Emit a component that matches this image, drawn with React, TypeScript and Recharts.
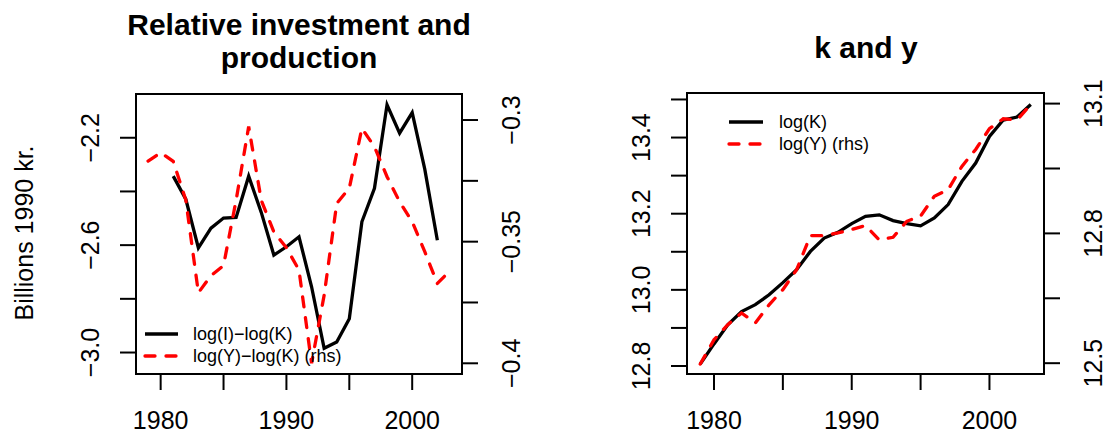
import React from "react";
import { Line, LineChart, ReferenceArea, XAxis, YAxis } from "recharts";

// years shared by both panels
const years = [
  1979, 1980, 1981, 1982, 1983, 1984, 1985, 1986, 1987, 1988, 1989, 1990,
  1991, 1992, 1993, 1994, 1995, 1996, 1997, 1998, 1999, 2000, 2001, 2002, 2003,
];

// left panel: log(I)-log(K) (lhs), log(Y)-log(K) (rhs)
const logIminusLogK = [
  null, null, -2.343, -2.429, -2.61, -2.537, -2.499, -2.497, -2.343, -2.478,
  -2.637, -2.606, -2.569, -2.755, -2.984, -2.961, -2.874, -2.513, -2.388,
  -2.077, -2.183, -2.106, -2.317, -2.582, null,
];
const logYminusLogK = [
  -0.3169, -0.3134, -0.317, -0.3329, -0.371, -0.364, -0.3598, -0.333, -0.3027,
  -0.333, -0.346, -0.3525, -0.3617, -0.4, -0.372, -0.3343, -0.328, -0.3034,
  -0.311, -0.3233, -0.3336, -0.3418, -0.3541, -0.3672, -0.362,
];

// right panel: log(K) (lhs), log(Y) (rhs)
const logK = [
  12.805, 12.858, 12.908, 12.943, 12.961, 12.987, 13.019, 13.053, 13.101,
  13.136, 13.151, 13.174, 13.193, 13.197, 13.182, 13.174, 13.168, 13.189,
  13.224, 13.285, 13.333, 13.403, 13.446, 13.454, 13.487,
];
const logY = [
  12.498, 12.554, 12.589, 12.616, 12.593, 12.635, 12.67, 12.716, 12.795,
  12.795, 12.801, 12.809, 12.818, 12.785, 12.791, 12.828, 12.84, 12.886,
  12.901, 12.955, 12.994, 13.042, 13.065, 13.062, 13.098,
];

// axis ticks and the tick labels that are shown
const xTicks = [1980, 1985, 1990, 1995, 2000];
const xLabels = [1980, 1990, 2000];
const relTicks = [-3.0, -2.8, -2.6, -2.4, -2.2];
const relLabels = ["−3.0", "−2.6", "−2.2"];
const relRhsTicks = [-0.4, -0.375, -0.35, -0.325, -0.3];
const relRhsLabels = ["−0.4", "−0.35", "−0.3"];
const kTicks = [12.8, 12.9, 13.0, 13.1, 13.2, 13.3, 13.4, 13.5];
const kLabels = ["12.8", "13.0", "13.2", "13.4"];
const yRhsTicks = [12.5, 12.65, 12.8, 12.95, 13.1];
const yRhsLabels = ["12.5", "12.8", "13.1"];

const relData = years.map((year, i) => ({
  year,
  inv: logIminusLogK[i],
  prod: logYminusLogK[i],
}));
const kyData = years.map((year, i) => ({ year, k: logK[i], y: logY[i] }));

const FONT = "'Liberation Sans', Arial, Helvetica, sans-serif";
const XDOMAIN: [number, number] = [1978.04, 2003.96];

// finds the label string for a tick value, or null when the tick is unlabelled
const labelFor = (v: number, labels: string[]) =>
  labels.find((l) => Math.abs(parseFloat(l.replace("−", "-")) - v) < 1e-6) ?? null;

const xTick = (props: any) => {
  const { x, y, payload } = props;
  if (!xLabels.includes(payload.value)) return <g />;
  return (
    <text x={x} y={y + 39} textAnchor="middle" fontSize={25} fontFamily={FONT} fill="#000">
      {payload.value}
    </text>
  );
};

const yTick = (labels: string[], dx: number) => (props: any) => {
  const { x, y, payload } = props;
  const label = labelFor(payload.value, labels);
  if (label === null) return <g />;
  const bx = x + dx;
  return (
    <text
      x={bx}
      y={y}
      transform={`rotate(-90, ${bx}, ${y})`}
      textAnchor="middle"
      fontSize={25}
      fontFamily={FONT}
      fill="#000"
    >
      {label}
    </text>
  );
};

const axisStyle = { stroke: "#000", strokeWidth: 2 };

export default function App() {
  return (
    <div style={{ position: "absolute", left: 0, top: 0, width: 1106, height: 434, background: "#fff" }}>
      <div style={{ position: "absolute", left: 0, top: 0 }}>
        <LineChart width={553} height={434} data={relData} margin={{ top: 94, right: 31, bottom: 20, left: 76 }}>
          <XAxis
            dataKey="year"
            type="number"
            domain={XDOMAIN}
            ticks={xTicks}
            interval={0}
            allowDataOverflow
            axisLine={false}
            tickLine={axisStyle}
            tickSize={16}
            tickMargin={0}
            height={40}
            tick={xTick}
          />
          <YAxis
            yAxisId="l"
            type="number"
            domain={[-3.08, -2.037]}
            ticks={relTicks}
            interval={0}
            allowDataOverflow
            axisLine={false}
            tickLine={axisStyle}
            tickSize={16}
            tickMargin={0}
            width={60}
            tick={yTick(relLabels, -21)}
          />
          <YAxis
            yAxisId="r"
            orientation="right"
            type="number"
            domain={[-0.4044, -0.2893]}
            ticks={relRhsTicks}
            interval={0}
            allowDataOverflow
            axisLine={false}
            tickLine={axisStyle}
            tickSize={16}
            tickMargin={0}
            width={60}
            tick={yTick(relRhsLabels, 42)}
          />
          <ReferenceArea
            yAxisId="l"
            x1={XDOMAIN[0]}
            x2={XDOMAIN[1]}
            y1={-3.08}
            y2={-2.037}
            fill="none"
            stroke="#000"
            strokeWidth={2}
            ifOverflow="visible"
          />
          <Line
            yAxisId="l"
            dataKey="inv"
            stroke="#000"
            strokeWidth={3.3}
            dot={false}
            connectNulls={false}
            isAnimationActive={false}
          />
          <Line
            yAxisId="r"
            dataKey="prod"
            stroke="#ff0000"
            strokeWidth={3.3}
            strokeDasharray="10 11"
            strokeLinecap="round"
            dot={false}
            isAnimationActive={false}
          />
        </LineChart>
      </div>
      <div style={{ position: "absolute", left: 553, top: 0 }}>
        <LineChart width={553} height={434} data={kyData} margin={{ top: 93, right: 2, bottom: 20, left: 74 }}>
          <XAxis
            dataKey="year"
            type="number"
            domain={XDOMAIN}
            ticks={xTicks}
            interval={0}
            allowDataOverflow
            axisLine={false}
            tickLine={axisStyle}
            tickSize={16}
            tickMargin={0}
            height={40}
            tick={xTick}
          />
          <YAxis
            yAxisId="l"
            type="number"
            domain={[12.779, 13.517]}
            ticks={kTicks}
            interval={0}
            allowDataOverflow
            axisLine={false}
            tickLine={axisStyle}
            tickSize={16}
            tickMargin={0}
            width={60}
            tick={yTick(kLabels, -21)}
          />
          <YAxis
            yAxisId="r"
            orientation="right"
            type="number"
            domain={[12.475, 13.1245]}
            ticks={yRhsTicks}
            interval={0}
            allowDataOverflow
            axisLine={false}
            tickLine={axisStyle}
            tickSize={16}
            tickMargin={0}
            width={60}
            tick={yTick(yRhsLabels, 42)}
          />
          <ReferenceArea
            yAxisId="l"
            x1={XDOMAIN[0]}
            x2={XDOMAIN[1]}
            y1={12.779}
            y2={13.517}
            fill="none"
            stroke="#000"
            strokeWidth={2}
            ifOverflow="visible"
          />
          <Line
            yAxisId="l"
            dataKey="k"
            stroke="#000"
            strokeWidth={3.3}
            dot={false}
            isAnimationActive={false}
          />
          <Line
            yAxisId="r"
            dataKey="y"
            stroke="#ff0000"
            strokeWidth={3.3}
            strokeDasharray="10 11"
            strokeLinecap="round"
            dot={false}
            isAnimationActive={false}
          />
        </LineChart>
      </div>
      {/* titles, y label and legends */}
      <svg
        width={1106}
        height={434}
        style={{ position: "absolute", left: 0, top: 0, pointerEvents: "none" }}
        fontFamily={FONT}
      >
        <text x={299} y={35} textAnchor="middle" fontSize={30} fontWeight="bold">
          Relative investment and
        </text>
        <text x={299} y={68} textAnchor="middle" fontSize={30} fontWeight="bold">
          production
        </text>
        <text x={866} y={58} textAnchor="middle" fontSize={30} fontWeight="bold">
          k and y
        </text>
        <text
          x={33}
          y={233}
          transform="rotate(-90, 33, 233)"
          textAnchor="middle"
          fontSize={25}
        >
          Billions 1990 kr.
        </text>

        <line x1={145} y1={334} x2={178} y2={334} stroke="#000" strokeWidth={3.3} />
        <line x1={145} y1={356} x2={178} y2={356} stroke="#ff0000" strokeWidth={3.3} strokeDasharray="10 11" strokeLinecap="round" />
        <text x={193} y={340} fontSize={18}>log(I)−log(K)</text>
        <text x={193} y={362} fontSize={18}>log(Y)−log(K) (rhs)</text>

        <line x1={729} y1={122} x2={763} y2={122} stroke="#000" strokeWidth={3.3} />
        <line x1={729} y1={144} x2={763} y2={144} stroke="#ff0000" strokeWidth={3.3} strokeDasharray="10 11" strokeLinecap="round" />
        <text x={779} y={128} fontSize={18}>log(K)</text>
        <text x={779} y={150} fontSize={18}>log(Y) (rhs)</text>
      </svg>
    </div>
  );
}
